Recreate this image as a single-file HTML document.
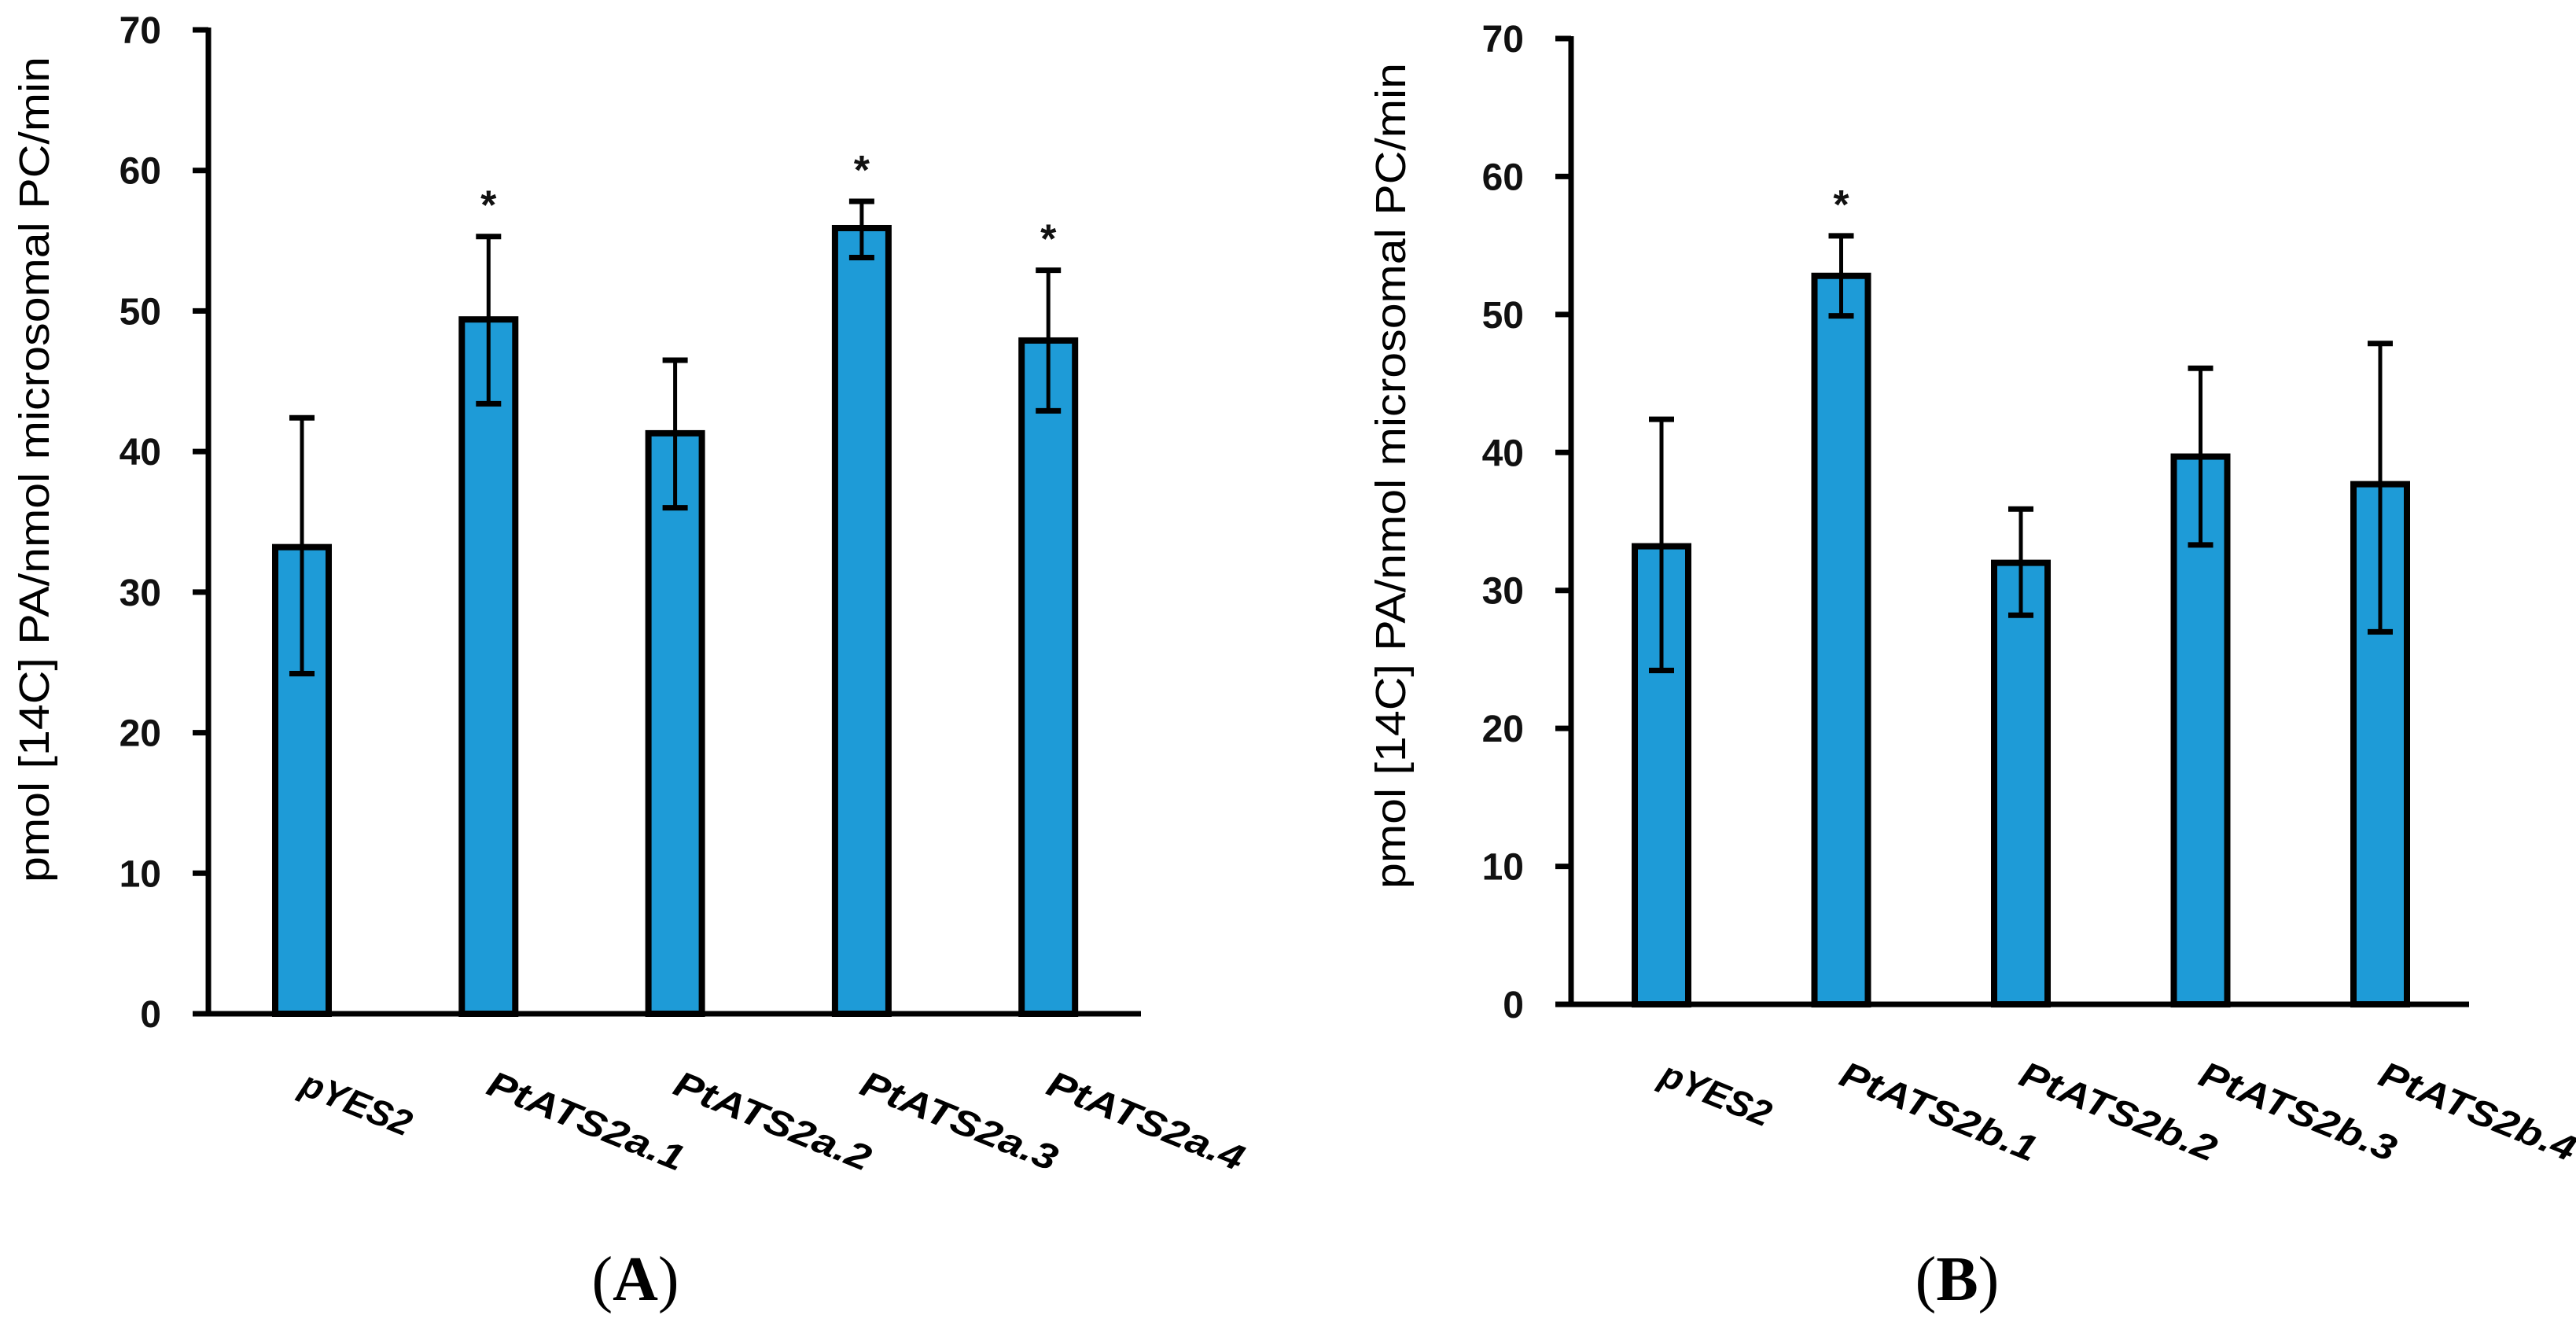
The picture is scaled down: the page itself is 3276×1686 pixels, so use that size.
<!DOCTYPE html>
<html><head><meta charset="utf-8">
<style>
html,body{margin:0;padding:0;background:#fff;}
svg{display:block;}
</style></head>
<body>
<svg id="chart" width="3276" height="1686" viewBox="0 0 3276 1686" xmlns="http://www.w3.org/2000/svg">
</svg>
<script>
const categoriesA = ["pYES2","PtATS2a.1","PtATS2a.2","PtATS2a.3","PtATS2a.4"];
const valuesA = [33.2, 49.4, 41.3, 55.9, 47.9];
const errLowA = [24.2, 43.4, 36.0, 53.8, 42.9];
const errHighA = [42.4, 55.3, 46.5, 57.8, 52.9];
const sigA = [false, true, false, true, true];

const categoriesB = ["pYES2","PtATS2b.1","PtATS2b.2","PtATS2b.3","PtATS2b.4"];
const valuesB = [33.2, 52.8, 32.0, 39.7, 37.7];
const errLowB = [24.2, 49.9, 28.2, 33.3, 27.0];
const errHighB = [42.4, 55.7, 35.9, 46.1, 47.9];
const sigB = [false, true, false, false, false];

const yTicks = [0,10,20,30,40,50,60,70];

const NS = "http://www.w3.org/2000/svg";
const svg = document.getElementById("chart");
function mk(tag, attrs, parent){
  const e = document.createElementNS(NS, tag);
  for (const k in attrs) e.setAttribute(k, attrs[k]);
  (parent||svg).appendChild(e);
  return e;
}

function drawPanel(p){
  const g = mk("g", {});
  
  
  const y = v => p.y0 - (v/70)*(p.y0 - p.y70);
  const x = i => p.x0 + i*p.step;
  p.cats.forEach((c,i)=>{
    const top = y(p.vals[i]);
    const r = mk("rect", {x: x(i)-p.bw/2, y: top, width: p.bw, height: p.y0-top, fill:"#1e9bd7", stroke:"#000", "stroke-width":8}, g);
    
    
    const eg = mk("g", {stroke:"#000"}, g);
    
    
    mk("line", {x1:x(i), x2:x(i), y1:y(p.hi[i]), y2:y(p.lo[i]), "stroke-width":5}, eg);
    mk("line", {x1:x(i)-16, x2:x(i)+16, y1:y(p.hi[i]), y2:y(p.hi[i]), "stroke-width":7}, eg);
    mk("line", {x1:x(i)-16, x2:x(i)+16, y1:y(p.lo[i]), y2:y(p.lo[i]), "stroke-width":7}, eg);
    if (p.sig[i]) {
      const s = mk("text", {x:x(i), y:y(p.hi[i])-22, "text-anchor":"middle", "font-family":"Liberation Sans, sans-serif", "font-size":52, "font-weight":"bold", fill:"#111"}, g);
      s.textContent = "*";
      
      
    }
    const t = mk("text", {x:x(i)-5, y:p.labY, "font-family":"Liberation Sans, sans-serif", "font-size":46, "font-weight":"bold", "font-style":"italic", fill:"#000", transform:`rotate(22 ${x(i)-5} ${p.labY})`, textLength: c.length*29.5, lengthAdjust:"spacingAndGlyphs"}, g);
    t.textContent = c;
    
    
  });
  const ax = mk("g", {stroke:"#000"}, g);
  
  
  mk("line", {x1:p.ax, x2:p.ax, y1:p.y70-3, y2:p.y0+3, "stroke-width":7}, ax);
  mk("line", {x1:p.ax-20, x2:p.xEnd, y1:p.y0, y2:p.y0, "stroke-width":7}, ax);
  yTicks.forEach(v=>{
    mk("line", {x1:p.ax-20, x2:p.ax, y1:y(v), y2:y(v), "stroke-width":7}, ax);
    const t = mk("text", {x:p.ax-60, y:y(v)+17, "text-anchor":"end", "font-family":"Liberation Sans, sans-serif", "font-size":48, "font-weight":"bold", fill:"#111"}, g);
    t.textContent = v;
    
    
  });
  const yt = mk("text", {x:0, y:0, "text-anchor":"middle", "font-family":"Liberation Sans, sans-serif", "font-size":54, fill:"#000", transform:`translate(${p.titleX} ${p.titleY}) rotate(-90)`, textLength:1050, lengthAdjust:"spacingAndGlyphs"}, g);
  yt.textContent = "pmol [14C] PA/nmol microsomal PC/min";
  
  
  const pl = mk("text", {x:p.panelX, y:1653, "text-anchor":"middle", "font-family":"Liberation Serif, serif", "font-size":80, fill:"#000"}, g);
  pl.innerHTML = '(<tspan font-weight="bold">' + p.letter + '</tspan>)';
  
  
}

drawPanel({name:"panel-a", cats:categoriesA, vals:valuesA, lo:errLowA, hi:errHighA, sig:sigA,
  ax:265, y0:1289, y70:38, x0:384, step:237.3, bw:68, xEnd:1451, labY:1390,
  titleX:62, titleY:597, panelX:808, letter:"A"});
drawPanel({name:"panel-b", cats:categoriesB, vals:valuesB, lo:errLowB, hi:errHighB, sig:sigB,
  ax:1998, y0:1277, y70:49, x0:2113, step:228.5, bw:68, xEnd:3140, labY:1378,
  titleX:1787, titleY:605, panelX:2489, letter:"B"});
</script>
</body></html>
